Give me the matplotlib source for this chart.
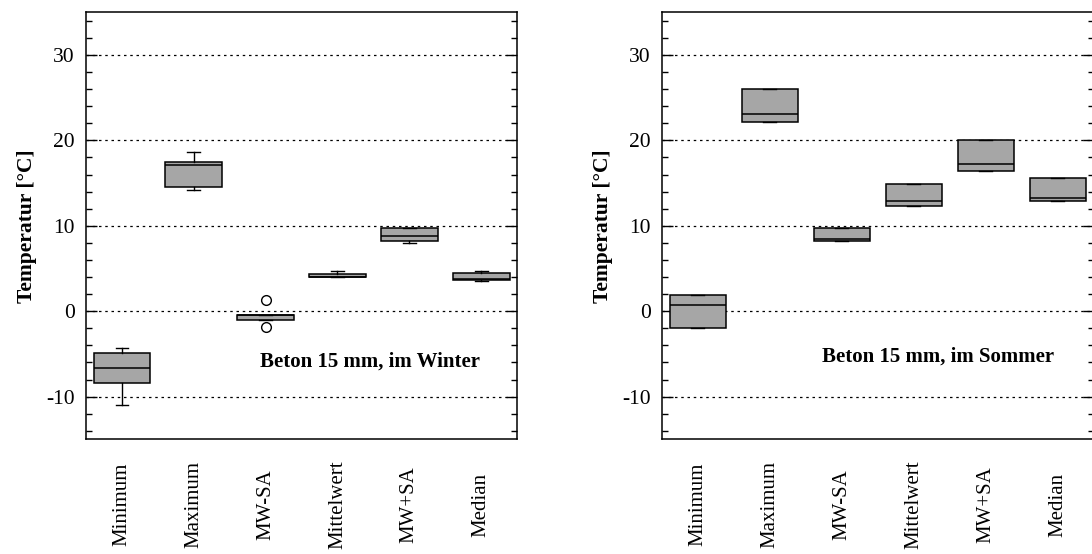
import matplotlib
matplotlib.use("Agg")
import matplotlib.pyplot as plt
from matplotlib.ticker import MultipleLocator

# Kennwerte je Kategorie (Boxen: q1, Median, q3; Whisker: unten/oben)
categories = ["Minimum", "Maximum", "MW-SA", "Mittelwert", "MW+SA", "Median"]

winter_q1 = [-8.4, 14.5, -1.0, 3.95, 8.2, 3.7]
winter_med = [-6.6, 17.1, -0.45, 4.05, 8.8, 3.8]
winter_q3 = [-4.85, 17.5, -0.4, 4.4, 9.7, 4.5]
winter_lo = [-10.95, 14.25, -1.0, 3.95, 8.0, 3.5]
winter_hi = [-4.25, 18.6, -0.4, 4.7, 9.75, 4.75]
winter_fliers = [[], [], [1.3, -1.9], [], [], []]

summer_q1 = [-2.0, 22.1, 8.2, 12.3, 16.4, 12.85]
summer_med = [0.7, 23.05, 8.5, 12.85, 17.2, 13.2]
summer_q3 = [1.85, 26.0, 9.7, 14.95, 20.1, 15.55]
summer_lo = summer_q1
summer_hi = summer_q3
summer_fliers = [[], [], [], [], [], []]

plt.rcParams['font.family'] = ['Liberation Serif', 'DejaVu Serif']
plt.rcParams['axes.unicode_minus'] = False


def make_stats(q1, med, q3, lo, hi, fliers):
    stats = []
    for i in range(len(categories)):
        stats.append({"q1": q1[i], "med": med[i], "q3": q3[i],
                      "whislo": lo[i], "whishi": hi[i],
                      "fliers": fliers[i], "label": categories[i]})
    return stats


def draw_panel(ax, stats, title, tx, ty):
    ax.bxp(stats, positions=range(1, len(stats) + 1), widths=0.79,
           capwidths=0.18, patch_artist=True, showfliers=True,
           boxprops=dict(facecolor="#a6a6a6", edgecolor="black", linewidth=1.1),
           medianprops=dict(color="black", linewidth=1.1),
           whiskerprops=dict(color="black", linewidth=1.0),
           capprops=dict(color="black", linewidth=1.0),
           flierprops=dict(marker="o", markerfacecolor="white",
                           markeredgecolor="black", markersize=7,
                           markeredgewidth=1.0))
    ax.set_xlim(0.5, 6.5)
    ax.set_ylim(-15, 35)
    ax.yaxis.set_major_locator(MultipleLocator(10))
    ax.yaxis.set_minor_locator(MultipleLocator(2))
    ax.grid(axis="y", which="major", color="black", linestyle=(0, (2, 3)),
            linewidth=0.9)
    ax.set_axisbelow(True)
    ax.tick_params(axis="y", which="both", direction="in", left=True,
                   right=True, labelsize=15.5, pad=8, width=1.0)
    ax.tick_params(axis="y", which="major", length=8)
    ax.tick_params(axis="y", which="minor", length=4)
    ax.tick_params(axis="x", length=0, pad=47)
    ax.set_xticks(range(1, len(categories) + 1))
    ax.set_xticklabels(categories, rotation=90, va="center", fontsize=15)
    for s in ax.spines.values():
        s.set_linewidth(1.1)
    ax.set_ylabel("Temperatur [°C]", fontsize=15.5, fontweight="bold",
                  labelpad=7)
    ax.text(tx, ty, title, ha="center", va="center", fontsize=15,
            fontweight="bold")


fig = plt.figure(figsize=(10.92, 5.54), dpi=100)
ax1 = fig.add_axes([0.0788, 0.207, 0.3947, 0.7708])
ax2 = fig.add_axes([0.6062, 0.207, 0.3956, 0.7708])

draw_panel(ax1, make_stats(winter_q1, winter_med, winter_q3, winter_lo,
                           winter_hi, winter_fliers),
           "Beton 15 mm, im Winter", 4.45, -5.95)
draw_panel(ax2, make_stats(summer_q1, summer_med, summer_q3, summer_lo,
                           summer_hi, summer_fliers),
           "Beton 15 mm, im Sommer", 4.33, -5.3)

fig.savefig("out.png", dpi=100)
